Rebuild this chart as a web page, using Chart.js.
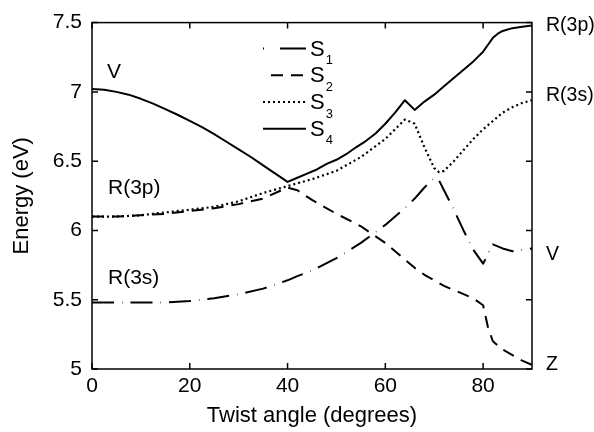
<!DOCTYPE html>
<html><head><meta charset="utf-8">
<script src="https://cdn.jsdelivr.net/npm/chart.js@4/dist/chart.umd.min.js"></script>
<style>html,body{margin:0;padding:0;background:#fff}#wrap{width:594px;height:432px}</style>
</head><body><div id="wrap"><canvas id="c" width="594" height="432"></canvas></div>
<script>
// ---- data ----
const angles = [0,5,10,15,20,25,30,35,40,42,45,50,55,60,62,64,66,68,70,71,72,74,76,78,80,81,82,84,86,88,90];
const s1 = [5.48,5.48,5.48,5.48,5.49,5.51,5.54,5.58,5.64,5.67,5.71,5.80,5.91,6.04,6.10,6.16,6.23,6.31,6.38,6.36,6.29,6.15,6.00,5.86,5.76,5.83,5.90,5.87,5.85,5.86,5.87];
const s2 = [6.10,6.10,6.11,6.12,6.14,6.16,6.19,6.23,6.31,6.29,6.22,6.12,6.03,5.91,5.85,5.79,5.73,5.68,5.64,5.62,5.60,5.57,5.54,5.51,5.46,5.30,5.20,5.14,5.10,5.06,5.03];
const s3 = [6.10,6.10,6.11,6.13,6.15,6.17,6.21,6.27,6.32,6.34,6.37,6.43,6.53,6.66,6.73,6.80,6.77,6.60,6.45,6.42,6.43,6.50,6.58,6.66,6.73,6.76,6.79,6.85,6.89,6.92,6.94];
// S4 is sampled more finely (its own angle list)
const s4Angles = [0,2.5,5,7.5,10,12.5,15,17.5,20,22.5,25,27.5,30,32.5,35,37.5,40,42,44,46,48,50,52,54,56,58,60,62,64,66,68,70,72,74,76,78,80,81,82,83,84,86,88,90];
const s4 = [7.02,7.015,7.00,6.98,6.95,6.915,6.875,6.835,6.79,6.745,6.695,6.64,6.585,6.53,6.47,6.41,6.35,6.38,6.41,6.44,6.48,6.51,6.55,6.60,6.645,6.70,6.77,6.85,6.94,6.87,6.93,6.98,7.04,7.10,7.16,7.22,7.29,7.34,7.39,7.42,7.44,7.46,7.47,7.48];
const seriesNames = ['1','2','3','4'];
const xTicks = [0,20,40,60,80];
const yTicks = [5,5.5,6,6.5,7,7.5];
const leftLabels = ['R(3s)','R(3p)','R(3p)','V'];   // start-state of S1..S4 (S2 shares R(3p) with S3)
const rightLabels = ['V','Z','R(3s)','R(3p)'];      // end-state of S1..S4
const xTitle = 'Twist angle (degrees)';
const yTitle = 'Energy (eV)';

const FONT = '"Liberation Sans", Arial, sans-serif';
const dashes = [[22,8,0.5,8],[12,8],[2,3],[]];
const allSeries = [s1,s2,s3,s4];
const allAngles = [angles,angles,angles,s4Angles];

const datasets = allSeries.map((s,i)=>({
  label: 'S'+seriesNames[i],
  data: allAngles[i].map((a,j)=>({x:a,y:s[j]})),
  borderColor:'#000', borderWidth: i===2?2.2:2, borderDash: dashes[i],
  pointRadius:0, fill:false, tension:0, borderCapStyle:'butt', borderJoinStyle:'round'
}));

const deco = {
  id:'deco',
  afterDatasetsDraw(chart){
    const ctx = chart.ctx, ca = chart.chartArea, xs = chart.scales.x, ys = chart.scales.y;
    ctx.save();
    ctx.strokeStyle='#000'; ctx.lineWidth=1.5; ctx.setLineDash([]);
    ctx.strokeRect(ca.left, ca.top, ca.right-ca.left, ca.bottom-ca.top);
    const tl = 6;
    ctx.beginPath();
    xTicks.forEach(v=>{const p=xs.getPixelForValue(v); ctx.moveTo(p,ca.bottom); ctx.lineTo(p,ca.bottom-tl); ctx.moveTo(p,ca.top); ctx.lineTo(p,ca.top+tl);});
    yTicks.forEach(v=>{const p=ys.getPixelForValue(v); ctx.moveTo(ca.left,p); ctx.lineTo(ca.left+tl,p); ctx.moveTo(ca.right,p); ctx.lineTo(ca.right-tl,p);});
    ctx.stroke();
    // state labels
    ctx.fillStyle='#000'; ctx.font='21px '+FONT; ctx.textBaseline='middle'; ctx.textAlign='left';
    const x0 = xs.getPixelForValue(0);
    ctx.fillText(leftLabels[3], x0+15, ys.getPixelForValue(s4[0])-17);
    ctx.fillText(leftLabels[2], x0+16, ys.getPixelForValue(s3[0])-28);
    ctx.fillText(leftLabels[0], x0+16, ys.getPixelForValue(s1[0])-24);
    const rOff = [6,0,-5,0];
    ctx.font='19.5px '+FONT;
    allSeries.forEach((s,i)=>{
      ctx.fillText(rightLabels[i], ca.right+14, ys.getPixelForValue(s[s.length-1])+rOff[i]);
    });
    // legend
    const lx0 = ca.left+171, lx1 = ca.left+214, ly0 = ca.top+26, dy = 26.7;
    datasets.forEach((d,i)=>{
      const y = ly0 + i*dy;
      ctx.lineWidth = 2; ctx.setLineDash(i===0?[1,16,28,0]:d.borderDash);
      ctx.beginPath();
      ctx.moveTo(i===1? lx0+8 : lx0, y); ctx.lineTo(lx1, y); ctx.stroke();
      ctx.setLineDash([]);
      ctx.font='22px '+FONT; ctx.textBaseline='middle';
      ctx.fillText('S', lx1+4, y+1);
      const w = ctx.measureText('S').width;
      ctx.font='13px '+FONT;
      ctx.fillText(seriesNames[i], lx1+4+w+1, y+12);
    });
    ctx.restore();
  }
};

new Chart(document.getElementById('c'), {
  type:'line',
  data:{datasets},
  options:{
    responsive:false, animation:false, devicePixelRatio:1,
    layout:{padding:{top:18,right:62,left:0,bottom:0}},
    plugins:{legend:{display:false}, tooltip:{enabled:false}},
    scales:{
      x:{type:'linear', min:0, max:90,
        afterBuildTicks(s){ s.ticks = xTicks.map(v=>({value:v})); },
        afterFit(s){ s.height = 63; },
        grid:{display:false, drawTicks:false},
        border:{display:false},
        ticks:{color:'#000', font:{family:FONT,size:21}, padding:5, maxRotation:0, callback:v=>String(v)},
        title:{display:true, text:xTitle, color:'#000', font:{family:FONT,size:22}, padding:{top:0,bottom:3}}
      },
      y:{type:'linear', min:5, max:7.5,
        afterBuildTicks(s){ s.ticks = yTicks.map(v=>({value:v})); },
        afterFit(s){ s.width = 92; },
        grid:{display:false, drawTicks:false},
        border:{display:false},
        ticks:{color:'#000', font:{family:FONT,size:21}, padding:10, callback:v=>String(v)},
        title:{display:true, text:yTitle, color:'#000', font:{family:FONT,size:22}, padding:{top:9,bottom:0}}
      }
    }
  },
  plugins:[deco]
});
</script></body></html>
